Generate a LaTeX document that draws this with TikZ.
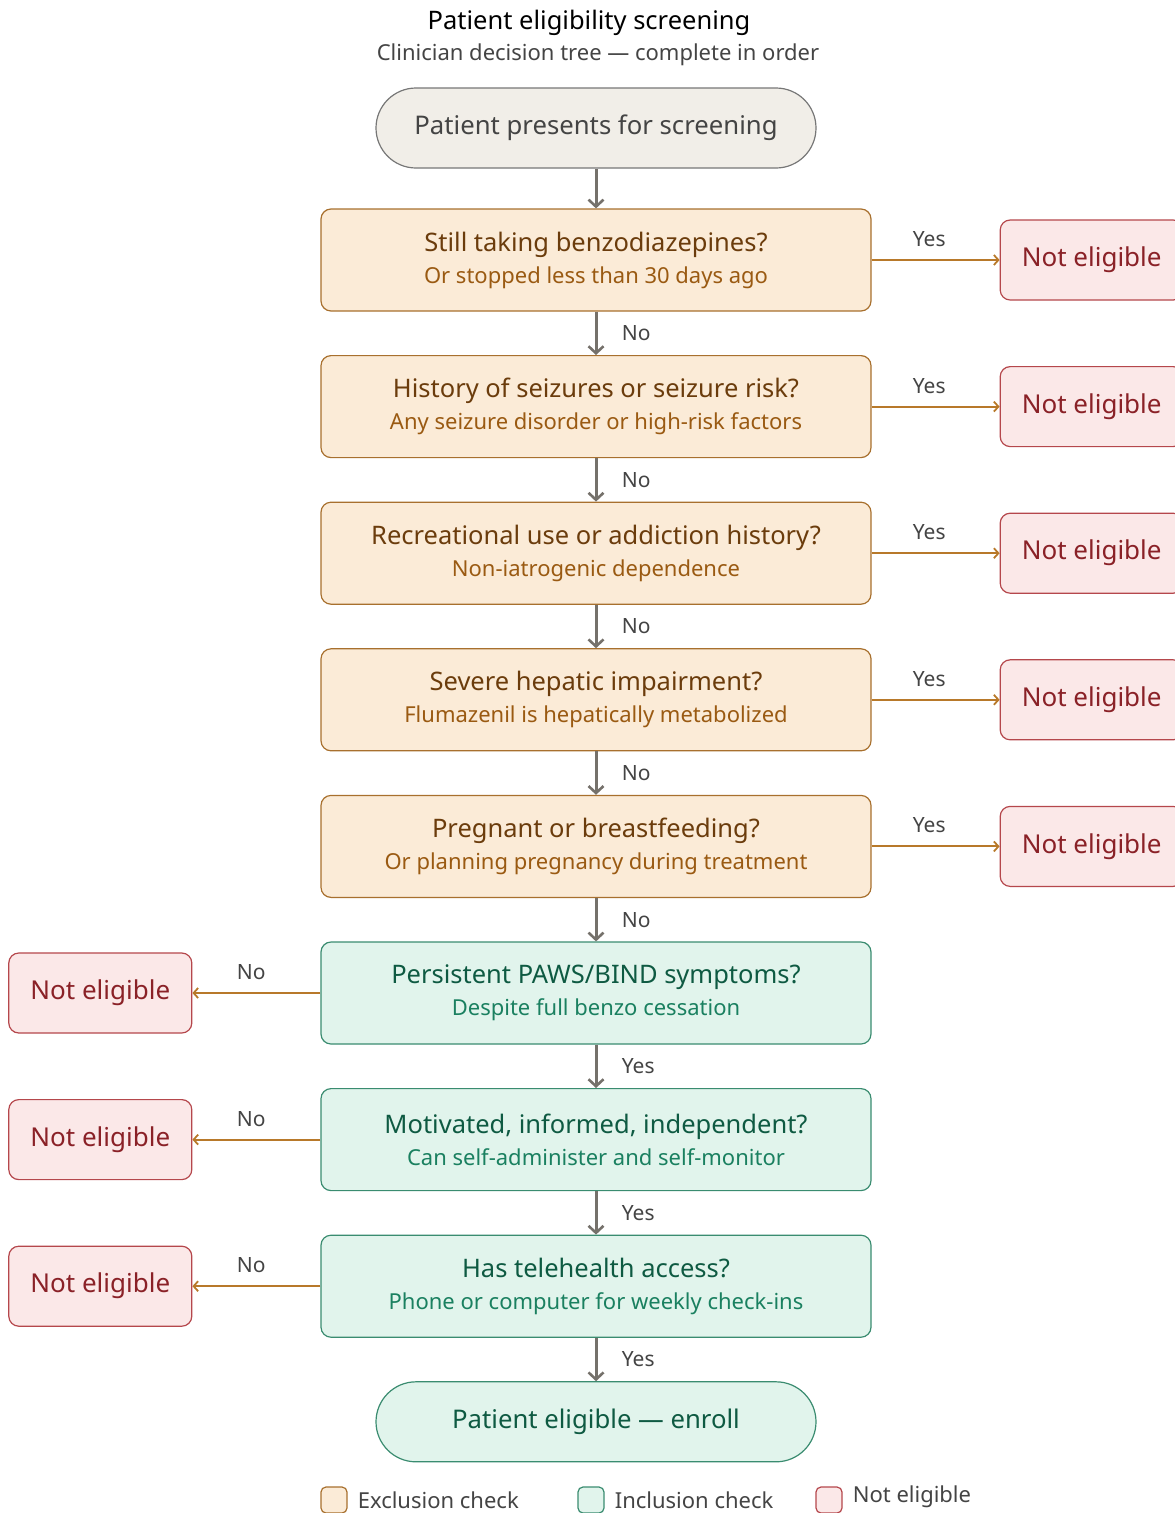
\documentclass[tikz,border=0pt]{standalone}
\usepackage{fontspec}
\setmainfont{Noto Sans}
\usepackage{tikz}
\usetikzlibrary{arrows.meta,positioning}
\definecolor{exfill}{HTML}{FBEBD7}
\definecolor{exdraw}{HTML}{A8702E}
\definecolor{extext}{HTML}{6B3C0C}
\definecolor{exsub}{HTML}{9A5A12}
\definecolor{infill}{HTML}{E1F4EC}
\definecolor{indraw}{HTML}{3A8C70}
\definecolor{intext}{HTML}{0E5A42}
\definecolor{insub}{HTML}{1A8060}
\definecolor{nefill}{HTML}{FBE8E8}
\definecolor{nedraw}{HTML}{B5474C}
\definecolor{netext}{HTML}{8A2127}
\definecolor{stfill}{HTML}{F1EEE8}
\definecolor{stdraw}{HTML}{777777}
\definecolor{sttext}{HTML}{444444}
\definecolor{downline}{HTML}{75716B}
\definecolor{sideline}{HTML}{B8792A}
\newcommand{\exnote}[1]{\\[1pt]{\color{exsub}\fontsize{22}{26}\selectfont #1}}
\newcommand{\innote}[1]{\\[1pt]{\color{insub}\fontsize{22}{26}\selectfont #1}}

\begin{document}
\begin{tikzpicture}[
        x=1pt, y=-1pt,
        node distance=43.4pt and 128pt,
        exclusion/.style={
            rectangle,
            rounded corners=10pt,
            minimum width=550pt,
            minimum height=102pt,
            draw=exdraw,
            line width=1.2pt,
            fill=exfill,
            text=extext,
            font=\fontsize{25.5}{31}\selectfont,
            align=center
        },
        inclusion/.style={
            exclusion,
            draw=indraw,
            fill=infill,
            text=intext
        },
        terminal/.style={
            rectangle,
            rounded corners=40pt,
            minimum width=440pt,
            minimum height=80pt,
            draw=stdraw,
            line width=1.2pt,
            fill=stfill,
            text=sttext,
            font=\fontsize{25.7}{30}\selectfont
        },
        endpoint/.style={
            terminal,
            draw=indraw,
            fill=infill,
            text=intext
        },
        noteligible/.style={
            rectangle,
            rounded corners=10pt,
            minimum width=183pt,
            minimum height=80pt,
            draw=nedraw,
            line width=1.2pt,
            fill=nefill,
            text=netext,
            font=\fontsize{26}{30}\selectfont
        },
        downarrow/.style={
            draw=downline,
            line width=3pt,
            -{Straight Barb[length=7pt,width=15pt,line width=2.6pt]}
        },
        sidearrow/.style={
            draw=sideline,
            line width=2pt,
            -{Straight Barb[length=4.5pt,width=10pt,line width=1.8pt]}
        },
        branch/.style={
            text=sttext,
            font=\fontsize{21}{25}\selectfont
        },
        swatch/.style={
            rectangle,
            rounded corners=5pt,
            minimum width=26pt,
            minimum height=26pt,
            line width=1.2pt,
            inner sep=0pt
        },
        legend/.style={
            text=sttext,
            font=\fontsize{22}{26}\selectfont,
            inner sep=0pt,
            anchor=west
        }
    ]
    \useasboundingbox (0,0) rectangle (1175,1513);

    % Title
    \node[text=black, font=\fontsize{25.5}{30}\selectfont] (title) at (589,23) {Patient eligibility screening};
    \node[text=sttext, font=\fontsize{22}{26}\selectfont] (subtitle) at (598,55) {Clinician decision tree --- complete in order};

    % Start
    \node[terminal] (start) at (596,128) {Patient presents for screening};

    % Exclusion checks
    \node[exclusion] (q1) at (596,260) {Still taking benzodiazepines?\exnote{Or stopped less than 30 days ago}};
    \node[exclusion, below=of q1] (q2) {History of seizures or seizure risk?\exnote{Any seizure disorder or high-risk factors}};
    \node[exclusion, below=of q2] (q3) {Recreational use or addiction history?\exnote{Non-iatrogenic dependence}};
    \node[exclusion, below=of q3] (q4) {Severe hepatic impairment?\exnote{Flumazenil is hepatically metabolized}};
    \node[exclusion, below=of q4] (q5) {Pregnant or breastfeeding?\exnote{Or planning pregnancy during treatment}};

    % Inclusion checks
    \node[inclusion, below=of q5] (q6) {Persistent PAWS/BIND symptoms?\innote{Despite full benzo cessation}};
    \node[inclusion, below=of q6] (q7) {Motivated, informed, independent?\innote{Can self-administer and self-monitor}};
    \node[inclusion, below=of q7] (q8) {Has telehealth access?\innote{Phone or computer for weekly check-ins}};

    % Enroll
    \node[endpoint, below=of q8] (enroll) {Patient eligible --- enroll};

    % Not eligible outcomes
    \node[noteligible, right=of q1] (ne1) {Not eligible};
    \node[noteligible, right=of q2] (ne2) {Not eligible};
    \node[noteligible, right=of q3] (ne3) {Not eligible};
    \node[noteligible, right=of q4] (ne4) {Not eligible};
    \node[noteligible, right=of q5] (ne5) {Not eligible};
    \node[noteligible, left=of q6] (ne6) {Not eligible};
    \node[noteligible, left=of q7] (ne7) {Not eligible};
    \node[noteligible, left=of q8] (ne8) {Not eligible};

    % Main path
    \draw[downarrow] (start) -- (q1);
    \draw[downarrow] (q1) -- node[branch, right=21pt] {No} (q2);
    \draw[downarrow] (q2) -- node[branch, right=21pt] {No} (q3);
    \draw[downarrow] (q3) -- node[branch, right=21pt] {No} (q4);
    \draw[downarrow] (q4) -- node[branch, right=21pt] {No} (q5);
    \draw[downarrow] (q5) -- node[branch, right=21pt] {No} (q6);
    \draw[downarrow] (q6) -- node[branch, right=21pt] {Yes} (q7);
    \draw[downarrow] (q7) -- node[branch, right=21pt] {Yes} (q8);
    \draw[downarrow] (q8) -- node[branch, right=21pt] {Yes} (enroll);

    % Exits
    \draw[sidearrow] (q1) -- node[branch, above=9pt, pos=0.45] {Yes} (ne1);
    \draw[sidearrow] (q2) -- node[branch, above=9pt, pos=0.45] {Yes} (ne2);
    \draw[sidearrow] (q3) -- node[branch, above=9pt, pos=0.45] {Yes} (ne3);
    \draw[sidearrow] (q4) -- node[branch, above=9pt, pos=0.45] {Yes} (ne4);
    \draw[sidearrow] (q5) -- node[branch, above=9pt, pos=0.45] {Yes} (ne5);
    \draw[sidearrow] (q6) -- node[branch, above=9pt, pos=0.54] {No} (ne6);
    \draw[sidearrow] (q7) -- node[branch, above=9pt, pos=0.54] {No} (ne7);
    \draw[sidearrow] (q8) -- node[branch, above=9pt, pos=0.54] {No} (ne8);

    % Legend
    \node[swatch, draw=exdraw, fill=exfill] (lgex) at (334,1500) {};
    \node[legend, right=10pt of lgex] (lgextext) {Exclusion check};
    \node[swatch, draw=indraw, fill=infill] (lgin) at (591,1500) {};
    \node[legend, right=10pt of lgin] (lgintext) {Inclusion check};
    \node[swatch, draw=nedraw, fill=nefill] (lgne) at (829,1500) {};
    \node[legend, right=10pt of lgne, yshift=3pt] (lgnetext) {Not eligible};

    \end{tikzpicture}
\end{document}
